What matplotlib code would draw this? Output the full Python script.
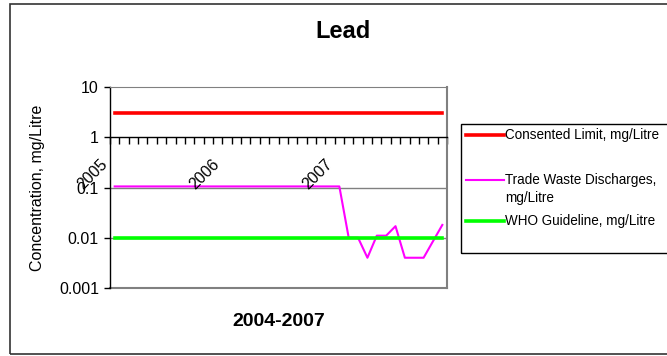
import matplotlib
matplotlib.use("Agg")
import matplotlib.pyplot as plt
from matplotlib.lines import Line2D
from matplotlib.patches import Rectangle
from matplotlib.ticker import FixedLocator, FixedFormatter, NullLocator
import numpy as np

plt.rcParams['font.family'] = ['Liberation Sans', 'DejaVu Sans']

# ---- data ----
n_months = 36
consented_limit = [3.0] * 36
trade_waste = [0.105] * 25 + [0.01, 0.01, 0.004, 0.011, 0.011, 0.017,
                              0.004, 0.004, 0.004, 0.0085, 0.018]
who_guideline = [0.01] * 36
year_labels = ["2005", "2006", "2007"]
year_label_idx = [0, 12, 24]
yticks = [10, 1, 0.1, 0.01, 0.001]
ytick_labels = ["10", "1", "0.1", "0.01", "0.001"]

W, H = 667, 356
fig = plt.figure(figsize=(W / 100, H / 100), dpi=100)

def fx(px):
    return px / W

def fy(py):
    return 1 - py / H

# outer chart border
fig.add_artist(Rectangle((fx(9.5), fy(354)), fx(700) - fx(9.5), fy(3.5) - fy(354),
                         transform=fig.transFigure, fill=False,
                         edgecolor='#333333', linewidth=1.2))

ax = fig.add_axes([fx(110), fy(288), fx(447) - fx(110), fy(87) - fy(288)])
x = np.arange(n_months)

ax.set_yscale('log')
ax.set_ylim(0.001, 10)
ax.set_xlim(-0.5, n_months - 0.5)

# gridlines
for g in [0.1, 0.01]:
    ax.axhline(g, color='#808080', linewidth=1.0, zorder=1)
ax.axhline(0.001, color='#808080', linewidth=1.5, zorder=1, clip_on=False)

ax.plot(x, consented_limit, color='#FF0000', linewidth=2.6, zorder=3)
ax.plot(x, trade_waste, color='#FF00FF', linewidth=1.5, zorder=3)
ax.plot(x, who_guideline, color='#00FF00', linewidth=2.6, zorder=4)

# spines
ax.spines['left'].set_color('black')
ax.spines['left'].set_linewidth(1.0)
ax.spines['top'].set_color('#808080')
ax.spines['right'].set_color('#808080')
ax.spines['right'].set_linewidth(1.5)
ax.spines['bottom'].set_position(('data', 1))
ax.spines['bottom'].set_color('black')
ax.spines['bottom'].set_linewidth(1.0)
ax.spines['bottom'].set_zorder(5)

# y ticks
ax.yaxis.set_major_locator(FixedLocator(yticks))
ax.yaxis.set_major_formatter(FixedFormatter(ytick_labels))
ax.yaxis.set_minor_locator(NullLocator())
ax.tick_params(axis='y', direction='out', length=4, width=1, pad=4,
               labelsize=11.5, colors='black')

# x ticks: category boundaries on the y=1 axis
ax.xaxis.set_major_locator(FixedLocator(np.arange(-0.5, n_months, 1.0)))
ax.xaxis.set_major_formatter(FixedFormatter([""] * (n_months + 1)))
ax.xaxis.set_minor_locator(NullLocator())
ax.tick_params(axis='x', direction='out', length=5, width=1, colors='black')

for lab, i in zip(year_labels, year_label_idx):
    ax.annotate(lab, xy=(i, 1), xytext=(-22, -37), textcoords='offset pixels',
                ha='center', va='center', rotation=45, fontsize=11.5,
                annotation_clip=False, zorder=6)

fig.text(fx(343), fy(31), "Lead", ha='center', va='center',
         fontsize=17, fontweight='bold')
fig.text(fx(278.5), fy(322), "2004-2007", ha='center', va='center',
         fontsize=14, fontweight='bold')
fig.text(fx(37.5), fy(187.5), "Concentration, mg/Litre", ha='center',
         va='center', rotation=90, fontsize=11.5)

# legend (manual)
fig.add_artist(Rectangle((fx(461), fy(253)), fx(720) - fx(461), fy(124) - fy(253),
                         transform=fig.transFigure, fill=False,
                         edgecolor='black', linewidth=1.0))
entries = [
    ('#FF0000', 2.6, 135, ["Consented Limit, mg/Litre"]),
    ('#FF00FF', 1.5, 180, ["Trade Waste Discharges,", "mg/Litre"]),
    ('#00FF00', 2.6, 221, ["WHO Guideline, mg/Litre"]),
]
for col, lw, yy, lines in entries:
    fig.add_artist(Line2D([fx(466), fx(504)], [fy(yy), fy(yy)],
                          transform=fig.transFigure, color=col, linewidth=lw))
    for k, t in enumerate(lines):
        fig.text(fx(505), fy(yy + 18 * k), t, ha='left', va='center',
                 fontsize=9.75)

fig.savefig("out.png", dpi=100)
